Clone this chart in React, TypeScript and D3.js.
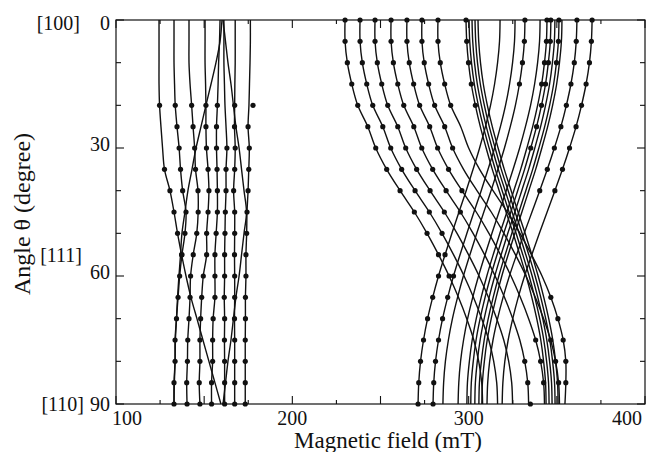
import React from 'react'
import * as d3 from 'd3'

// angle of rotation, degrees (one reading every 5 degrees)
const angles = [0, 5, 10, 15, 20, 25, 30, 35, 40, 45, 50, 55, 60, 65, 70, 75, 80, 85, 90]

// low-field group (mT)
const lowA = [124.4, 124.4, 124.4, 124.4, 124.7, 125.5, 126.4, 127.5, 130.6, 132.9, 134.9, 137.2, 139.7, 142.5, 145.9, 149.3, 152.7, 156.1, 159.5]
const lowB = [132.9, 132.9, 132.9, 133.2, 133.6, 134.6, 135.8, 136.6, 137.8, 139.7, 139.1, 137.4, 136.1, 135.2, 134.3, 133.5, 133.5, 132.9, 132.9]
const lowC = [141.4, 141.4, 141.4, 142.0, 142.9, 143.7, 144.6, 145.1, 146.5, 146.6, 145.8, 143.8, 142.3, 142.0, 141.4, 140.7, 140.5, 140.1, 140.3]
const lowD = [150.5, 150.5, 150.5, 150.8, 151.0, 151.0, 151.3, 152.2, 152.7, 152.2, 151.4, 151.4, 149.5, 148.6, 148.0, 147.6, 147.6, 147.2, 147.6]
const lowE = [159.0, 158.7, 158.2, 157.9, 157.5, 157.0, 157.0, 157.3, 157.5, 157.5, 156.8, 156.1, 156.1, 156.1, 155.1, 154.8, 154.8, 154.2, 154.2]
const lowF = [160.1, 159.0, 156.7, 153.9, 151.0, 148.2, 145.4, 143.1, 140.8, 139.1, 137.4, 136.6, 135.7, 134.9, 134.3, 133.7, 133.5, 133.1, 132.9]
const lowG = [167.6, 167.6, 167.6, 167.4, 167.3, 167.2, 167.6, 167.3, 166.7, 167.3, 167.3, 167.2, 167.3, 167.3, 167.2, 167.3, 167.3, 167.3, 167.3]
const lowH = [176.2, 176.2, 176.0, 175.7, 175.4, 174.9, 175.6, 175.3, 174.9, 174.3, 174.1, 173.7, 173.7, 173.4, 173.4, 173.3, 173.3, 173.3, 173.3]
const lowI = [161.2, 161.2, 161.2, 161.5, 161.8, 162.4, 162.9, 162.4, 162.4, 162.0, 161.8, 161.6, 161.6, 161.4, 161.6, 161.5, 161.6, 161.6, 161.6]
const lowJ = [160.7, 162.1, 163.5, 165.2, 166.6, 168.0, 169.8, 171.2, 172.6, 174.0, 172.6, 171.2, 169.8, 168.0, 166.6, 165.2, 163.5, 162.1, 160.7]

// high-field group (mT)
const upA1 = [229.9, 229.9, 231.2, 233.7, 237.1, 242.8, 247.3, 253.5, 261.1, 269.2, 276.4, 282.9, 288.9, 294.2, 298.9, 302.9, 305.7, 307.4, 307.9]
const upA2 = [238.4, 238.4, 239.7, 242.2, 245.6, 251.3, 255.8, 262.0, 269.6, 277.7, 284.9, 291.4, 297.4, 302.7, 307.4, 311.4, 314.2, 315.9, 316.4]
const upA3 = [246.9, 246.9, 248.2, 250.7, 254.1, 259.8, 264.3, 270.5, 278.1, 286.2, 293.4, 299.9, 305.9, 311.2, 315.9, 319.9, 322.7, 324.4, 324.9]
const upA4 = [256.0, 256.0, 257.3, 259.8, 263.2, 268.9, 273.4, 279.6, 287.2, 295.3, 302.5, 309.0, 315.0, 320.3, 325.0, 329.0, 331.8, 333.5, 334.0]
const upA5 = [265.0, 265.0, 266.3, 268.8, 272.2, 277.9, 282.4, 288.6, 296.2, 304.3, 311.5, 318.0, 324.0, 329.3, 334.0, 338.0, 340.8, 342.5, 343.0]
const upA6 = [273.5, 273.5, 274.8, 277.3, 280.7, 286.4, 290.9, 297.1, 304.7, 312.8, 320.0, 326.5, 332.5, 337.8, 342.5, 346.5, 349.3, 351.0, 351.5]
const upA7 = [282.6, 282.6, 283.9, 286.4, 289.8, 295.5, 300.0, 306.2, 313.8, 321.9, 329.1, 335.6, 341.6, 346.6, 350.6, 353.6, 355.1, 355.1, 354.6]

const upB1 = [317.8, 317.5, 316.4, 314.7, 312.4, 309.5, 306.2, 302.5, 298.6, 294.5, 290.5, 286.6, 282.9, 279.6, 276.7, 274.4, 272.7, 271.7, 271.3]
const upB2 = [326.3, 326.0, 324.9, 323.2, 320.9, 318.0, 314.7, 311.0, 307.1, 303.0, 299.0, 295.1, 291.4, 288.1, 285.2, 282.9, 281.2, 280.2, 279.8]
const upB3 = [331.9, 331.6, 330.5, 328.8, 326.5, 323.6, 320.3, 316.6, 312.7, 308.6, 304.6, 300.7, 297.0, 293.7, 290.8, 288.5, 286.8, 285.8, 285.4]
const upB4 = [340.5, 340.2, 339.1, 337.4, 335.1, 332.2, 328.9, 325.2, 321.3, 317.2, 313.2, 309.3, 305.6, 302.3, 299.4, 297.1, 295.4, 294.4, 294.0]

const upC1 = [298.5, 298.9, 299.9, 301.5, 303.8, 306.6, 309.9, 313.4, 317.3, 321.2, 325.2, 329.0, 332.6, 335.8, 338.6, 340.9, 342.5, 343.6, 343.9]
const upC2 = [300.2, 300.6, 301.6, 303.2, 305.5, 308.3, 311.6, 315.1, 319.0, 322.9, 326.9, 330.7, 334.3, 337.5, 340.3, 342.6, 344.2, 345.3, 345.6]
const upC3 = [301.9, 302.3, 303.3, 304.9, 307.2, 310.0, 313.3, 316.8, 320.7, 324.6, 328.6, 332.4, 336.0, 339.2, 342.0, 344.3, 345.9, 347.0, 347.3]
const upC4 = [303.6, 304.0, 305.0, 306.6, 308.9, 311.7, 315.0, 318.5, 322.4, 326.3, 330.3, 334.1, 337.7, 340.9, 343.7, 346.0, 347.6, 348.7, 349.0]
const upC5 = [305.3, 305.7, 306.7, 308.3, 310.6, 313.4, 316.7, 320.2, 324.1, 328.0, 332.0, 335.8, 339.4, 342.6, 345.4, 347.7, 349.3, 350.4, 350.7]

const upD1 = [344.4, 344.1, 343.0, 341.4, 339.1, 336.3, 333.0, 329.5, 325.6, 321.7, 317.7, 313.9, 310.3, 307.1, 304.3, 302.0, 300.4, 299.3, 299.0]
const upD2 = [346.6, 346.3, 345.2, 343.6, 341.3, 338.5, 335.2, 331.7, 327.8, 323.9, 319.9, 316.1, 312.5, 309.3, 306.5, 304.2, 302.6, 301.5, 301.2]
const upD3 = [348.9, 348.6, 347.5, 345.9, 343.6, 340.8, 337.5, 334.0, 330.1, 326.2, 322.2, 318.4, 314.8, 311.6, 308.8, 306.5, 304.9, 303.8, 303.5]
const upD4 = [351.2, 350.9, 349.8, 348.2, 345.9, 343.1, 339.8, 336.3, 332.4, 328.5, 324.5, 320.7, 317.1, 313.9, 311.1, 308.8, 307.2, 306.1, 305.8]
const upD5 = [352.9, 352.6, 351.5, 349.9, 347.6, 344.8, 341.5, 338.0, 334.1, 330.2, 326.2, 322.4, 318.8, 315.6, 312.8, 310.5, 308.9, 307.8, 307.5]

const upE1 = [361.4, 361.0, 359.9, 358.0, 355.4, 352.3, 348.6, 344.6, 340.3, 335.9, 331.5, 327.2, 323.1, 319.5, 316.4, 313.8, 311.9, 310.8, 310.4]
const upE2 = [370.0, 369.6, 368.5, 366.6, 364.0, 360.9, 357.2, 353.2, 348.9, 344.5, 340.1, 335.8, 331.7, 328.1, 325.0, 322.4, 320.5, 319.4, 319.0]

// index ranges (into angles) where measured points are shown
const curves: { v: number[]; dots: number[][] }[] = [
  { v: lowA, dots: [[4, 4], [7, 11]] },
  { v: lowB, dots: [[4, 18]] },
  { v: lowC, dots: [[4, 18]] },
  { v: lowD, dots: [[4, 18]] },
  { v: lowE, dots: [[4, 18]] },
  { v: lowF, dots: [] },
  { v: lowG, dots: [[4, 18]] },
  { v: lowH, dots: [[5, 18]] },
  { v: lowI, dots: [[6, 18]] },
  { v: lowJ, dots: [] },
  { v: upA1, dots: [[0, 12]] },
  { v: upA2, dots: [[0, 10]] },
  { v: upA3, dots: [[0, 9]] },
  { v: upA4, dots: [[0, 9], [16, 17]] },
  { v: upA5, dots: [[0, 8], [15, 17]] },
  { v: upA6, dots: [[0, 6], [15, 17]] },
  { v: upA7, dots: [[0, 4], [13, 17]] },
  { v: upB1, dots: [[11, 18]] },
  { v: upB2, dots: [[12, 18]] },
  { v: upB3, dots: [[0, 3]] },
  { v: upB4, dots: [] },
  { v: upC1, dots: [[0, 4]] },
  { v: upC2, dots: [] },
  { v: upC3, dots: [] },
  { v: upC4, dots: [] },
  { v: upC5, dots: [] },
  { v: upD1, dots: [[0, 3]] },
  { v: upD2, dots: [[0, 6]] },
  { v: upD3, dots: [] },
  { v: upD4, dots: [[0, 2]] },
  { v: upD5, dots: [] },
  { v: upE1, dots: [[0, 8]] },
  { v: upE2, dots: [[0, 8]] },
]

// stray points that sit off the fitted curves
const strayField = [177.7, 335.0]
const strayAngle = [20, 90]

const xTicks = [100, 125, 150, 175, 200, 225, 250, 275, 300, 325, 350, 375, 400]
const yTicks = [0, 10, 20, 30, 40, 50, 60, 70, 80, 90]
const xLabels = [100, 200, 300, 400]
const yLabels = [0, 30, 60, 90]

const font = "'Liberation Serif', 'Times New Roman', serif"

export default function App() {
  const width = 646
  const height = 452
  const left = 116
  const right = 645
  const top = 20
  const bottom = 404

  const x = d3.scaleLinear().domain([100, 400]).range([left, right])
  const y = d3.scaleLinear().domain([0, 90]).range([top, bottom])

  const line = d3
    .line<number>()
    .x(d => x(d))
    .y((d, i) => y(angles[i]))
    .curve(d3.curveCatmullRom)

  const dots: { cx: number; cy: number }[] = []
  curves.forEach(c => {
    c.dots.forEach(([a, b]) => {
      for (let i = a; i <= b; i++) dots.push({ cx: x(c.v[i]), cy: y(angles[i]) })
    })
  })
  strayField.forEach((b, i) => dots.push({ cx: x(b), cy: y(strayAngle[i]) }))

  // edge labels sit a little inside the frame
  const xLabelPos = (v: number) => (v === 100 ? x(v) + 11 : v === 400 ? x(v) - 18 : x(v))
  const yLabelBase = (v: number) => (v === 0 ? y(v) + 10 : v === 90 ? y(v) + 7 : y(v) + 3)

  return (
    <svg
      width={width}
      height={height}
      style={{ position: 'absolute', left: 0, top: 0, background: '#fff' }}
      fontFamily={font}
    >
      <g fill="none" stroke="#111" strokeWidth={1.4}>
        {curves.map((c, i) => (
          <path key={i} d={line(c.v) || ''} />
        ))}
      </g>
      <g fill="#111">
        {dots.map((d, i) => (
          <circle key={i} cx={d.cx} cy={d.cy} r={2.6} />
        ))}
      </g>

      <rect x={left} y={top} width={right - left} height={bottom - top} fill="none" stroke="#111" strokeWidth={1.2} />
      <g stroke="#111" strokeWidth={1.1}>
        {xTicks.map(t => {
          const len = t % 50 === 0 ? 8 : 4
          return (
            <g key={t}>
              <line x1={x(t)} x2={x(t)} y1={bottom} y2={bottom - len} />
              <line x1={x(t)} x2={x(t)} y1={top} y2={top + len} />
            </g>
          )
        })}
        {yTicks.map(t => {
          const len = t % 30 === 0 ? 8 : 5
          return (
            <g key={t}>
              <line x1={left} x2={left + len} y1={y(t)} y2={y(t)} />
              <line x1={right} x2={right - len} y1={y(t)} y2={y(t)} />
            </g>
          )
        })}
      </g>

      <g fontSize={20} fill="#111">
        {xLabels.map(t => (
          <text key={t} x={xLabelPos(t)} y={425} textAnchor="middle">
            {t}
          </text>
        ))}
        {yLabels.map(t => (
          <text key={t} x={110} y={yLabelBase(t)} textAnchor="end">
            {t}
          </text>
        ))}
      </g>
      <g fontSize={20} fill="#111">
        <text x={80} y={30} textAnchor="end">[100]</text>
        <text x={82} y={262} textAnchor="end">[111]</text>
        <text x={84} y={411} textAnchor="end">[110]</text>
      </g>

      <text x={388} y={448} textAnchor="middle" fontSize={23} fill="#111">
        Magnetic field (mT)
      </text>
      <text
        transform="translate(30, 214) rotate(-90)"
        textAnchor="middle"
        fontSize={24}
        fill="#111"
      >
        Angle θ (degree)
      </text>
    </svg>
  )
}
